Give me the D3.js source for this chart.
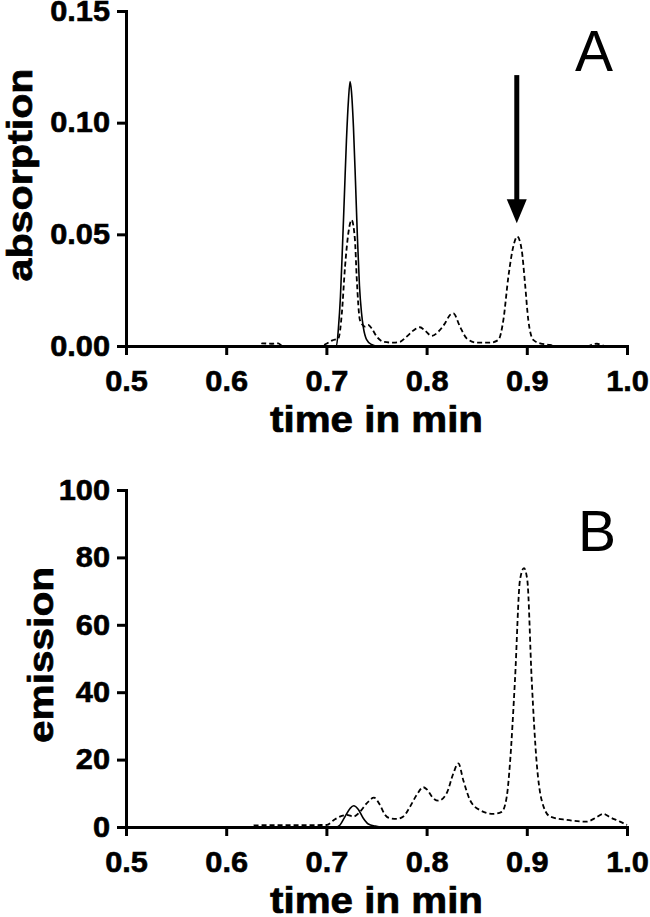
<!DOCTYPE html>
<html>
<head>
<meta charset="utf-8">
<script src="https://cdn.jsdelivr.net/npm/d3@7"></script>
<style>
  body { margin: 0; background: #fff; }
  text { font-family: "Liberation Sans", Arial, sans-serif; }
</style>
</head>
<body>
<script>
// x ticks shared by both panels
var timeTicks = [0.5, 0.6, 0.7, 0.8, 0.9, 1.0];

// panel A - absorption, [time, value]
var absorptionTicks = [0, 0.05, 0.10, 0.15];
var absorptionSolid = [
  [0.50, 0], [0.70, 0], [0.710, 0], [0.712, 0.008], [0.714, 0.022], [0.716, 0.044],
  [0.718, 0.068], [0.720, 0.092], [0.722, 0.110], [0.7236, 0.1184], [0.725, 0.114],
  [0.727, 0.098], [0.729, 0.074], [0.731, 0.048], [0.733, 0.027], [0.735, 0.015],
  [0.737, 0.008], [0.740, 0.003], [0.745, 0.0007], [0.750, 0], [1.0, 0]
];
var absorptionDashed = [
  [0.50, 0], [0.632, 0], [0.636, 0.0012], [0.645, 0.0010], [0.652, 0.0012], [0.656, 0],
  [0.695, 0], [0.700, 0.001], [0.706, 0.0025], [0.712, 0.0034], [0.7154, 0.0146],
  [0.7186, 0.0355], [0.7219, 0.0505], [0.7252, 0.0564], [0.7285, 0.0475], [0.7302, 0.031],
  [0.7335, 0.0116], [0.7385, 0.0087], [0.7418, 0.0094], [0.7452, 0.0079], [0.7502, 0.0042],
  [0.7568, 0.0019], [0.7668, 0.0015], [0.7735, 0.0019], [0.7801, 0.0042], [0.7868, 0.0069],
  [0.7934, 0.0084], [0.7984, 0.0069], [0.8051, 0.0045], [0.8117, 0.0064], [0.8184, 0.0102],
  [0.8234, 0.0139], [0.8267, 0.0146], [0.8333, 0.0087], [0.840, 0.0034], [0.850, 0.0015],
  [0.8633, 0.0015], [0.8716, 0.0027], [0.8766, 0.0116], [0.8816, 0.031], [0.8865, 0.0445],
  [0.8905, 0.049], [0.8949, 0.043], [0.8982, 0.0281], [0.9015, 0.0116], [0.9065, 0.0027],
  [0.9132, 0.0012], [0.9232, 0.0005], [0.930, 0], [0.962, 0], [0.966, 0.0008],
  [0.970, 0.0010], [0.974, 0.0006], [0.978, 0], [1.0, 0]
];
// arrow pointing at the 0.89 peak: [time, top value, tip value]
var arrowA = [0.89, 0.1213, 0.055];

// panel B - emission
var emissionTicks = [0, 20, 40, 60, 80, 100];
var emissionSolid = [
  [0.50, 0], [0.71, 0], [0.7136, 0.6], [0.7186, 3.1], [0.7236, 5.5], [0.7272, 6.3],
  [0.7319, 5.2], [0.7368, 2.6], [0.7418, 0.9], [0.7485, 0.3], [0.755, 0], [1.0, 0]
];
var emissionDashed = [
  [0.50, 0], [0.625, 0], [0.628, 0.5], [0.700, 0.6], [0.7086, 2.3], [0.7153, 3.3],
  [0.7203, 3.6], [0.7269, 3.1], [0.7335, 4.5], [0.7402, 7.0], [0.7475, 8.7], [0.7535, 6.5],
  [0.7585, 3.6], [0.7635, 2.6], [0.7702, 2.4], [0.7768, 3.1], [0.7834, 6.0], [0.7901, 9.5],
  [0.7968, 11.8], [0.8001, 11.2], [0.8067, 8.5], [0.8117, 7.8], [0.820, 10.0], [0.8267, 15.9],
  [0.8317, 18.9], [0.8366, 13.9], [0.8433, 8.0], [0.8533, 5.0], [0.8666, 3.9], [0.875, 4.5],
  [0.880, 9.0], [0.8832, 18.9], [0.8882, 43.6], [0.8932, 73.3], [0.8972, 76.8], [0.9005, 73.3],
  [0.9049, 43.6], [0.9099, 18.9], [0.9148, 8.0], [0.9232, 3.1], [0.9398, 2.1], [0.9598, 1.6],
  [0.9697, 2.9], [0.9764, 3.9], [0.983, 2.9], [0.993, 1.6], [1.0, 0.6]
];

var svg_Width = 650;
var svg_Height = 917;

var svg = d3.select("body")
  .append("svg")
  .attr("width", svg_Width)
  .attr("height", svg_Height);

var plotLeft = 126, plotRight = 627;

function drawPanel(opts) {
  var xScale = d3.scaleLinear().domain([0.5, 1.0]).range([plotLeft, plotRight]);
  var yScale = d3.scaleLinear().domain(opts.yDomain).range([opts.bottom, opts.top]);

  var line = d3.line()
    .x(d => xScale(d[0]))
    .y(d => yScale(d[1]))
    .curve(d3.curveMonotoneX);

  // data lines
  svg.append("path")
    .datum(opts.dashed)
    .attr("d", line)
    .attr("fill", "none")
    .attr("stroke", "#000")
    .attr("stroke-width", 1.8)
    .attr("stroke-dasharray", "5,3");

  svg.append("path")
    .datum(opts.solid)
    .attr("d", line)
    .attr("fill", "none")
    .attr("stroke", "#000")
    .attr("stroke-width", 1.6);

  // axes
  var bottomAxis = d3.axisBottom(xScale)
    .tickValues(timeTicks)
    .tickFormat(d3.format(".1f"))
    .tickSizeInner(9)
    .tickSizeOuter(0)
    .tickPadding(15);

  var leftAxis = d3.axisLeft(yScale)
    .tickValues(opts.yTicks)
    .tickFormat(opts.yFormat)
    .tickSizeInner(9)
    .tickSizeOuter(0)
    .tickPadding(7);

  var xg = svg.append("g")
    .attr("transform", `translate(0, ${opts.bottom})`)
    .call(bottomAxis);
  var yg = svg.append("g")
    .attr("transform", `translate(${plotLeft}, 0)`)
    .call(leftAxis);

  [xg, yg].forEach(function (g) {
    g.select(".domain").attr("stroke-width", 3).attr("stroke-linecap", "square");
    g.selectAll(".tick line").attr("stroke-width", 3);
    g.selectAll(".tick text")
      .attr("font-size", 29)
      .attr("font-weight", "bold")
      .attr("fill", "#000")
      .attr("stroke", "#000")
      .attr("stroke-width", 0.6)
      .each(function () {
        // reference digits run a little wider than Arial bold
        d3.select(this)
          .attr("textLength", this.getComputedTextLength() * 1.06)
          .attr("lengthAdjust", "spacingAndGlyphs");
      });
  });

  // axis titles
  svg.append("text")
    .attr("x", (plotLeft + plotRight) / 2)
    .attr("y", opts.bottom + 86)
    .attr("text-anchor", "middle")
    .attr("font-size", 36)
    .attr("font-weight", "bold")
    .attr("stroke", "#000")
    .attr("stroke-width", 0.7)
    .attr("textLength", 213)
    .attr("lengthAdjust", "spacingAndGlyphs")
    .text("time in min");

  svg.append("text")
    .attr("transform", `translate(${opts.titleX}, ${opts.titleY}) rotate(-90)`)
    .attr("text-anchor", "middle")
    .attr("font-size", 35)
    .attr("font-weight", "bold")
    .attr("stroke", "#000")
    .attr("stroke-width", 0.7)
    .attr("textLength", opts.titleLength)
    .attr("lengthAdjust", "spacingAndGlyphs")
    .text(opts.title);

  // panel letter
  svg.append("text")
    .attr("x", opts.letterX)
    .attr("y", opts.letterY)
    .attr("font-size", 57)
    .text(opts.letter);

  return { x: xScale, y: yScale };
}

var panelA = drawPanel({
  top: 11, bottom: 346, yDomain: [0, 0.15], yTicks: absorptionTicks,
  yFormat: d3.format(".2f"), solid: absorptionSolid, dashed: absorptionDashed,
  title: "absorption", titleX: 32, titleY: 175, titleLength: 213,
  letter: "A", letterX: 575, letterY: 71
});

drawPanel({
  top: 490, bottom: 827, yDomain: [0, 100], yTicks: emissionTicks,
  yFormat: d3.format("d"), solid: emissionSolid, dashed: emissionDashed,
  title: "emission", titleX: 53, titleY: 655, titleLength: 176,
  letter: "B", letterX: 578, letterY: 551
});

// arrow in panel A
var ax = panelA.x(arrowA[0]);
var aTop = panelA.y(arrowA[1]);
var aTip = panelA.y(arrowA[2]);
var headLen = 24;
svg.append("line")
  .attr("x1", ax).attr("x2", ax)
  .attr("y1", aTop).attr("y2", aTip - headLen + 2)
  .attr("stroke", "#000")
  .attr("stroke-width", 5);
svg.append("path")
  .attr("d", `M${ax - 10},${aTip - headLen}L${ax + 10},${aTip - headLen}L${ax},${aTip}Z`)
  .attr("fill", "#000");
</script>
</body>
</html>
